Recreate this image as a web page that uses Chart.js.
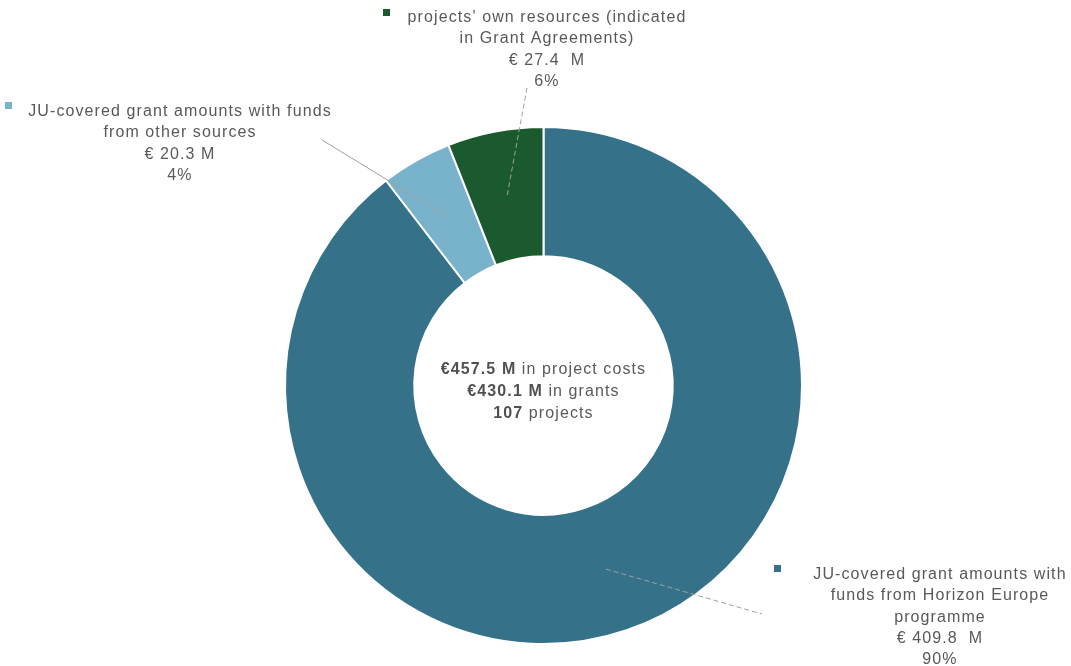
<!DOCTYPE html>
<html>
<head>
<meta charset="utf-8">
<script src="https://cdn.jsdelivr.net/npm/chart.js@4/dist/chart.umd.min.js"></script>
<style>
  html, body { margin: 0; padding: 0; background: #fff; }
  #wrap { width: 1071px; height: 666px; position: relative; }
</style>
</head>
<body>
<div id="wrap"><canvas id="chart"></canvas></div>
<script>
// Funding sources (M EUR), drawn clockwise from 12 o'clock
const sourceNames = [
  ['JU-covered grant amounts with', 'funds from Horizon Europe', 'programme'],
  ['JU-covered grant amounts with funds', 'from other sources'],
  ["projects' own resources (indicated", 'in Grant Agreements)']
];
const sourceValues = [409.8, 20.3, 27.4];
const sourceColors = ['#35728a', '#78b3cb', '#1b5a2e'];
const valueSpacing = [' ', '', ' '];

// Centre summary
const totalCosts = 457.5;
const totalGrants = 430.1;
const projectCount = 107;

// where each callout sits: text centre x, first baseline y, marker, line end, dashed?
const callouts = [
  { x: 940, y: 579, marker: [774, 565], lineEnd: [762, 614], dash: [5, 3] },
  { x: 180, y: 116, marker: [5, 102], lineEnd: [322, 140], dash: [] },
  { x: 547, y: 22, marker: [383, 9], lineEnd: [527, 88], dash: [5, 3] }
];

const textColor = '#595959';
const fontFamily = '"Liberation Sans", Arial, sans-serif';
const fontSize = 16;
const spacing = '1.1px';
const lineH = 21.3;

const calloutPlugin = {
  id: 'callouts',
  afterDraw(chart) {
    const ctx = chart.ctx;
    const arcs = chart.getDatasetMeta(0).data;
    const total = sourceValues.reduce((a, b) => a + b, 0);
    ctx.save();
    ctx.letterSpacing = spacing;
    arcs.forEach((arc, i) => {
      const c = callouts[i];
      const mid = (arc.startAngle + arc.endAngle) / 2;
      const r = (arc.innerRadius + arc.outerRadius) / 2;
      const ax = arc.x + Math.cos(mid) * r;
      const ay = arc.y + Math.sin(mid) * r;

      ctx.strokeStyle = '#a0a0a0';
      ctx.lineWidth = 1;
      ctx.setLineDash(c.dash);
      ctx.beginPath();
      ctx.moveTo(ax, ay);
      ctx.lineTo(c.lineEnd[0], c.lineEnd[1]);
      ctx.stroke();
      ctx.setLineDash([]);

      ctx.fillStyle = sourceColors[i];
      ctx.fillRect(c.marker[0], c.marker[1], 7, 7);

      const lines = sourceNames[i].concat([
        '€ ' + sourceValues[i].toFixed(1) + valueSpacing[i] + ' M',
        Math.round(sourceValues[i] / total * 100) + '%'
      ]);
      ctx.fillStyle = textColor;
      ctx.font = fontSize + 'px ' + fontFamily;
      ctx.textAlign = 'center';
      ctx.textBaseline = 'alphabetic';
      lines.forEach((t, k) => ctx.fillText(t, c.x, c.y + k * lineH));
    });

    // centre summary, bold figure followed by plain text
    const cx = arcs[0].x;
    const cy = arcs[0].y;
    const rows = [
      ['€' + totalCosts.toFixed(1) + ' M', ' in project costs'],
      ['€' + totalGrants.toFixed(1) + ' M', ' in grants'],
      [String(projectCount), ' projects']
    ];
    ctx.textAlign = 'left';
    rows.forEach((row, k) => {
      const bold = 'bold ' + fontSize + 'px ' + fontFamily;
      const norm = fontSize + 'px ' + fontFamily;
      ctx.font = bold;
      const w1 = ctx.measureText(row[0]).width;
      ctx.font = norm;
      const w2 = ctx.measureText(row[1]).width;
      const x0 = cx - (w1 + w2) / 2;
      const y = cy - 12 + k * 22;
      ctx.font = bold;
      ctx.fillStyle = '#505050';
      ctx.fillText(row[0], x0, y);
      ctx.font = norm;
      ctx.fillStyle = textColor;
      ctx.fillText(row[1], x0 + w1, y);
    });
    ctx.restore();
  }
};

new Chart(document.getElementById('chart'), {
  type: 'doughnut',
  data: {
    labels: sourceNames.map(n => n.join(' ')),
    datasets: [{
      data: sourceValues,
      backgroundColor: sourceColors,
      borderColor: '#ffffff',
      borderWidth: 2
    }]
  },
  options: {
    responsive: true,
    maintainAspectRatio: false,
    animation: false,
    cutout: '50%',
    layout: { padding: { top: 125, bottom: 20, left: 284, right: 268 } },
    plugins: {
      legend: { display: false },
      tooltip: { enabled: false }
    }
  },
  plugins: [calloutPlugin]
});
</script>
</body>
</html>
